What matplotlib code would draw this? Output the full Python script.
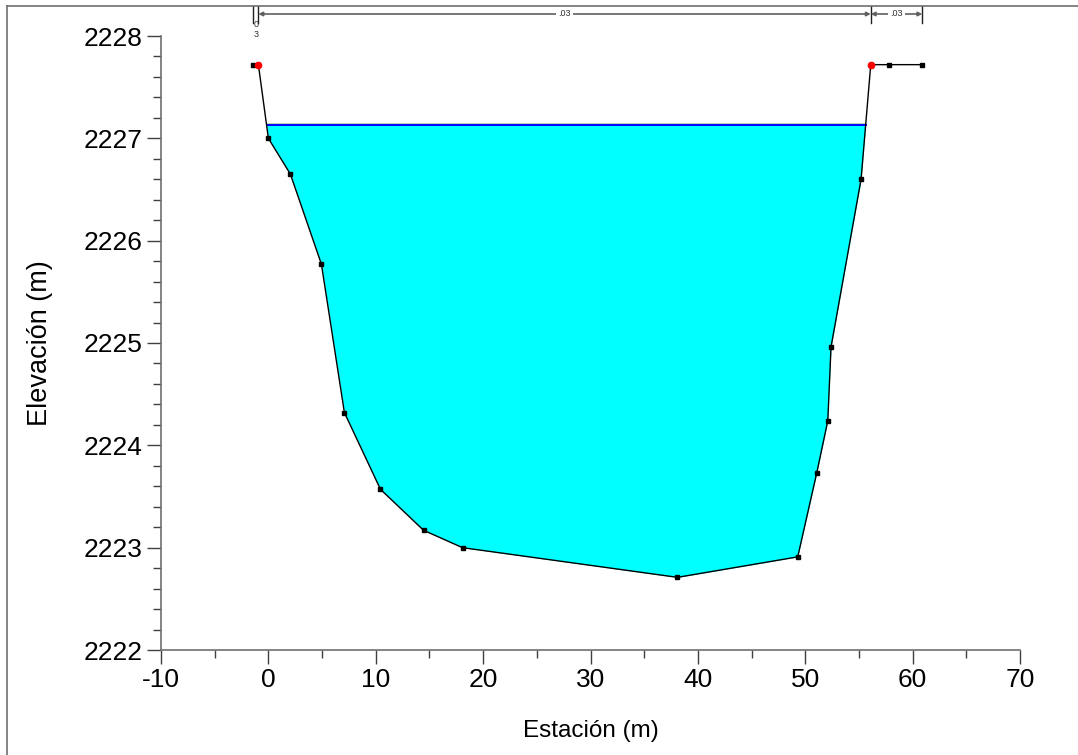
import numpy as np
import matplotlib
matplotlib.use("Agg")
import matplotlib.pyplot as plt
import matplotlib.transforms as mtransforms
from matplotlib.lines import Line2D
from matplotlib.ticker import MultipleLocator

plt.rcParams['font.family'] = ['Liberation Sans', 'DejaVu Sans']

# ---- data ----
station = [-1.4, -0.93, 0.0, 2.05, 4.94, 7.08, 10.44, 14.45, 18.08, 38.1,
           49.3, 51.07, 52.1, 52.4, 55.2, 56.1, 57.8, 60.9]
elev = [2227.72, 2227.72, 2227.0, 2226.65, 2225.77, 2224.32, 2223.57, 2223.17,
        2223.0, 2222.71, 2222.91, 2223.73, 2224.24, 2224.96, 2226.6, 2227.72,
        2227.72, 2227.72]
bank_station = [-0.93, 56.1]
bank_elev = [2227.72, 2227.72]
ws_elev = 2227.13
n_breaks = [-1.4, -0.93, 56.1, 60.9]
n_labels = ["0\n3", ".03", ".03"]

xticks = [-10, 0, 10, 20, 30, 40, 50, 60, 70]
yticks = [2222, 2223, 2224, 2225, 2226, 2227, 2228]

W, H = 1078, 755
fig = plt.figure(figsize=(W / 100, H / 100), dpi=100)
ax = fig.add_axes([161 / W, 1 - 650 / H, (1020 - 161) / W, (650 - 36) / H])

st = np.array(station)
el = np.array(elev)

# water fill
ax.fill_between(st, el, ws_elev, where=el < ws_elev, interpolate=True,
                color='#00ffff', linewidth=0, zorder=1)

# water surface extents (intersection with ground)
def crossing(i0, i1):
    x0, x1, y0, y1 = st[i0], st[i1], el[i0], el[i1]
    return x0 + (ws_elev - y0) * (x1 - x0) / (y1 - y0)

below = np.where(el < ws_elev)[0]
xl = crossing(below[0] - 1, below[0])
xr = crossing(below[-1], below[-1] + 1)
ax.plot([xl, xr], [ws_elev + 0.013, ws_elev + 0.013], color='#a8d0a0', lw=1.2, zorder=2)
ax.plot([xl, xr], [ws_elev, ws_elev], color='#0000ff', lw=1.4, zorder=3)

# ground
ax.plot(st, el, color='black', lw=1.0, marker='s', ms=3.2, zorder=4, clip_on=False)
ax.plot(bank_station, bank_elev, 'o', color='#ff0000', ms=4.5, zorder=5, clip_on=False)

ax.set_xlim(-10, 70)
ax.set_ylim(2222, 2228)
ax.set_xticks(xticks)
ax.set_yticks(yticks)
ax.set_xticklabels([str(v) for v in xticks])
ax.set_yticklabels([str(v) for v in yticks])
ax.xaxis.set_minor_locator(MultipleLocator(5))
ax.yaxis.set_minor_locator(MultipleLocator(0.2))

for s in ['top', 'right']:
    ax.spines[s].set_visible(False)
for s in ['left', 'bottom']:
    ax.spines[s].set_color('#707070')
    ax.spines[s].set_linewidth(1.2)

ax.tick_params(which='major', length=10, width=1, color='#404040',
               labelsize=19, pad=3)
ax.tick_params(which='minor', length=6, width=1, color='#404040')

ax.set_xlabel('Estación (m)', fontsize=17.5, labelpad=20)
ax.set_ylabel('Elevación (m)', fontsize=19.5, labelpad=22)

# Manning's n annotations above
tr = mtransforms.blended_transform_factory(ax.transData, fig.transFigure)
fy = lambda p: 1 - p / H
for xb in n_breaks:
    ax.add_line(Line2D([xb, xb], [fy(6), fy(23)], transform=tr, color='#202020',
                       lw=1.0, clip_on=False))
for i, lab in enumerate(n_labels):
    x0, x1 = n_breaks[i], n_breaks[i + 1]
    if x1 - x0 < 2:
        ax.text((x0 + x1) / 2, fy(20), lab, transform=tr, fontsize=6.5,
                ha='center', va='top', color='#303030', linespacing=1.2)
        continue
    ax.annotate('', xy=(x0, fy(14)), xytext=(x1, fy(14)),
                xycoords=tr, textcoords=tr,
                arrowprops=dict(arrowstyle='<|-|>', color='#606060', lw=1.2,
                                mutation_scale=6, shrinkA=0, shrinkB=0),
                annotation_clip=False)
    ax.text((x0 + x1) / 2, fy(14), lab, transform=tr, fontsize=6.5,
            ha='center', va='center', color='#303030',
            bbox=dict(facecolor='white', edgecolor='none', pad=1.5))

# figure frame lines
fig.add_artist(Line2D([7 / W, 1], [fy(6), fy(6)], transform=fig.transFigure,
                      color='#707070', lw=1.2))
fig.add_artist(Line2D([7 / W, 7 / W], [0, fy(6)], transform=fig.transFigure,
                      color='#707070', lw=1.2))

fig.savefig('out.png', dpi=100)
